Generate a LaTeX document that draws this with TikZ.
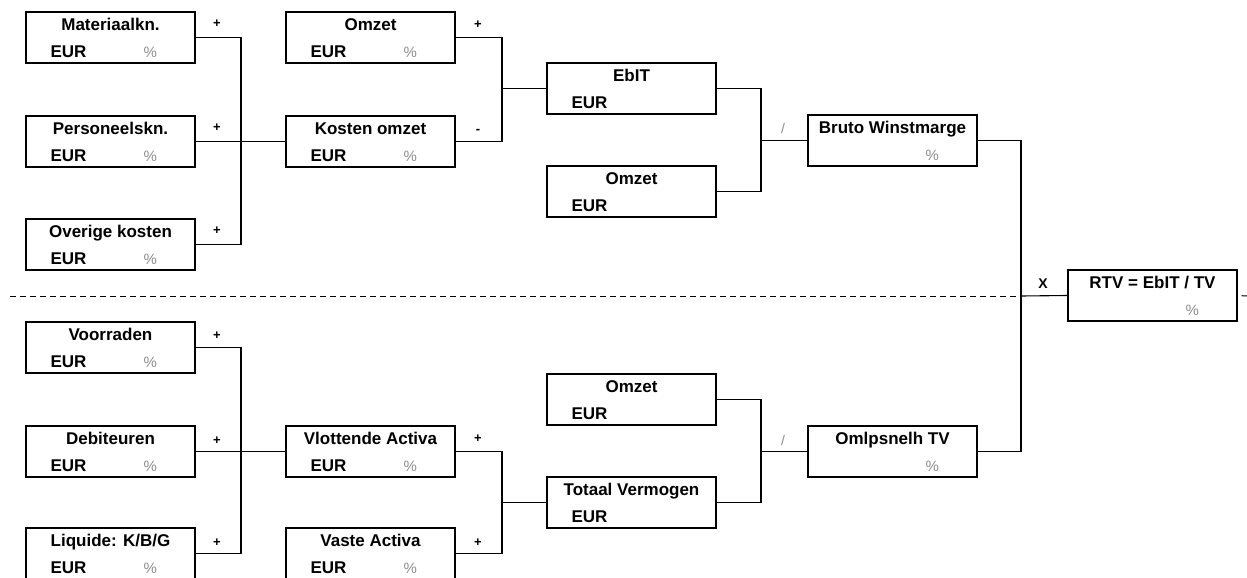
\documentclass[tikz,border=0pt]{standalone}
\usepackage{fontspec}
\setmainfont{Liberation Sans}
\usetikzlibrary{positioning,calc}
\tikzset{
  blok/.style   = {draw, line width=1.3pt, minimum width=169pt,
                   minimum height=51pt, inner sep=0pt},
  titel/.style  = {anchor=base, inner sep=0pt,
                   font=\fontsize{17}{18}\selectfont\bfseries},
  eur/.style    = {anchor=base west, inner sep=0pt,
                   font=\fontsize{17}{18}\selectfont\bfseries},
  pct/.style    = {anchor=base, inner sep=0pt, text=black!45,
                   font=\fontsize{15}{16}\selectfont},
  teken/.style  = {inner sep=0pt, font=\fontsize{13}{13}\selectfont\bfseries},
  deel/.style   = {inner sep=0pt, text=black!45, font=\fontsize{14}{14}\selectfont},
  lijn/.style   = {line width=1.1pt},
  scheiding/.style = {line width=1pt, dash pattern=on 6pt off 4pt}
}
% box with title, EUR and % line
\newcommand{\blok}[6]{%
  \node[blok] (#1) at (#2+84.5,#3+25.5) {};
  \node[titel] (#1-t) at ([yshift=-19pt]#1.north) {#4};
  \node[eur] (#1-e) at ([xshift=25pt,yshift=6pt]#1.south west) {#5};
  \node[pct] (#1-p) at ([xshift=125pt,yshift=6pt]#1.south west) {#6};
}

\begin{document}
\begin{tikzpicture}[x=1pt,y=-1pt]
    \useasboundingbox (0,0) rectangle (1247,578);
    \clip (0,0) rectangle (1247,578);
    % top half
    \blok{mat}{26}{12}{Materiaalkn.}{EUR}{\%}
    \blok{pers}{26}{116}{Personeelskn.}{EUR}{\%}
    \blok{over}{26}{219}{Overige kosten}{EUR}{\%}
    \blok{omz1}{286}{12}{Omzet}{EUR}{\%}
    \blok{kost}{286}{116}{Kosten omzet}{EUR}{\%}
    \blok{ebit}{547}{63}{EbIT}{EUR}{}
    \blok{omz2}{547}{166}{Omzet}{EUR}{}
    \blok{bruto}{808}{115}{Bruto Winstmarge}{}{\%}
    % result
    \blok{rtv}{1068}{270}{RTV = EbIT / TV}{}{\%}
    % bottom half
    \blok{voor}{26}{322}{Voorraden}{EUR}{\%}
    \blok{deb}{26}{426}{Debiteuren}{EUR}{\%}
    \blok{liq}{26}{528}{Liquide: K/B/G}{EUR}{\%}
    \blok{vlot}{286}{426}{Vlottende Activa}{EUR}{\%}
    \blok{vast}{286}{528}{Vaste Activa}{EUR}{\%}
    \blok{omz3}{547}{374}{Omzet}{EUR}{}
    \blok{tot}{547}{477}{Totaal Vermogen}{EUR}{}
    \blok{omlp}{808}{426}{Omlpsnelh TV}{}{\%}

    \coordinate (s1) at (241,141.5);
    \coordinate (s2) at (502,88.5);
    \coordinate (s3) at (761,140.5);
    \coordinate (s4) at (1021,296);
    \coordinate (s5) at (241,451.5);
    \coordinate (s6) at (502,502.5);
    \coordinate (s7) at (761,451.5);
    \coordinate (d0) at (10,296);
    \coordinate (d1) at (1247,296);

    \draw[lijn] (mat.east) -| (s1) |- (over.east);
    \draw[lijn] (pers.east) -- (kost.west);
    \draw[lijn] (omz1.east) -| (s2) |- (kost.east);
    \draw[lijn] (s2) -- (ebit.west);
    \draw[lijn] (ebit.east) -| (s3) |- (omz2.east);
    \draw[lijn] (s3) -- (bruto.west);
    \draw[lijn] (bruto.east) -| (s4) |- (omlp.east);
    \draw[lijn] (s4) -- (rtv.west);
    \draw[lijn] (voor.east) -| (s5) |- (liq.east);
    \draw[lijn] (deb.east) -- (vlot.west);
    \draw[lijn] (vlot.east) -| (s6) |- (vast.east);
    \draw[lijn] (s6) -- (tot.west);
    \draw[lijn] (omz3.east) -| (s7) |- (tot.east);
    \draw[lijn] (s7) -- (omlp.west);
    \draw[scheiding] (d0) -- (s4);
    \draw[scheiding, shorten <=4pt] (rtv.east) -- (d1);

    \node[teken] (op1) at (217,24) {+};
    \node[teken] (op2) at (217,128) {+};
    \node[teken] (op3) at (217,231) {+};
    \node[teken] (op4) at (478,25) {+};
    \node[teken] (op5) at (478,131) {-};
    \node[deel] (op6) at (783,128) {/};
    \node[teken, font=\fontsize{14}{14}\selectfont\bfseries] (op7) at (1043,284) {X};
    \node[teken] (op8) at (217,336) {+};
    \node[teken] (op9) at (217,441) {+};
    \node[teken] (op10) at (217,543) {+};
    \node[teken] (op11) at (478,439) {+};
    \node[teken] (op12) at (478,543) {+};
    \node[deel] (op13) at (783,440) {/};
\end{tikzpicture}
\end{document}
